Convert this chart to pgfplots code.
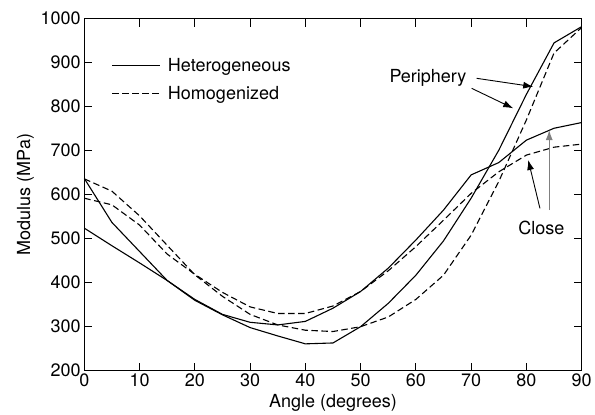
\documentclass[border=0pt]{standalone}
\usepackage{fontspec}
\setmainfont{TeX Gyre Heros}
\usepackage{pgfplots}
\pgfplotsset{compat=1.18}
\usetikzlibrary{arrows.meta}

\pgfplotstableread{
x y
0 637
5 537
10 471
15 405
20 360
25 327
30 298
35 279
40 261
45 263
50 300
55 353
60 417
65 495
70 592
75 701
80 828
85 945
90 982
}\perhet

\pgfplotstableread{
x y
0 524
5 484
10 445
15 405
20 362
25 328
30 310
35 304
40 312
45 342
50 380
55 433
60 497
65 565
70 645
75 673
80 724
85 751
90 764
}\clohet

\pgfplotstableread{
x y
0 636
5 608
10 552
15 485
20 418
25 369
30 328
35 304
40 292
45 289
50 300
55 322
60 362
65 417
70 508
75 630
80 770
85 922
90 980
}\perhom

\pgfplotstableread{
x y
0 592
5 577
10 531
15 465
20 419
25 378
30 345
35 330
40 330
45 347
50 380
55 427
60 482
65 542
70 603
75 652
80 690
85 708
90 715
}\clohom

\begin{document}
\begin{tikzpicture}[font=\fontsize{18}{21.6}\selectfont]
\begin{axis}[
  scale only axis, width=497.4pt, height=352pt,
  xmin=0, xmax=90, ymin=200, ymax=1000,
  xtick={0,10,...,90}, ytick={200,300,...,1000},
  tick align=inside, major tick length=8pt,
  axis line style={line width=1.1pt},
  every tick/.style={line width=1.1pt, black},
  /pgf/number format/assume math mode=true,
  /pgf/number format/1000 sep={},
  xlabel={Angle (degrees)}, ylabel={Modulus (MPa)},
  clip=false,
  legend style={draw=none, fill=none, at={(axis cs:4.96,861.8)}, anchor=west, inner sep=0pt, row sep=10pt,
    /tikz/every odd column/.append style={column sep=5pt}},
  legend cell align=left,
  legend image code/.code={\draw[#1] (0pt,0pt) -- (48pt,0pt);},
  dashstyle/.style={dash pattern=on 6.5pt off 3.5pt},
]
\addlegendimage{line width=1.1pt}
\addlegendentry{Heterogeneous}
\addlegendimage{line width=1.1pt, dashstyle}
\addlegendentry{Homogenized}
\addplot[forget plot, line width=1.1pt] table {\perhet};
\addplot[forget plot, line width=1.1pt] table {\clohet};
\addplot[forget plot, line width=1.1pt, dashstyle] table {\perhom};
\addplot[forget plot, line width=1.1pt, dashstyle] table {\clohom};
\draw[line width=0.9pt, -{Latex[length=10pt,width=7pt]}] (axis cs:71.0,864.5) -- (axis cs:81.24,845.5);
\draw[line width=0.9pt, -{Latex[length=10pt,width=7pt]}] (axis cs:70.09,841.8) -- (axis cs:77.62,796.4);
\node at (axis cs:62.19,865.2) {Periphery};
\draw[line width=0.9pt, -{Latex[length=10pt,width=7pt]}] (axis cs:82.45,569) -- (axis cs:80.33,678.9);
\draw[line width=1.1pt, gray, -{Latex[length=10pt,width=7pt]}] (axis cs:84.13,565.2) -- (axis cs:84.13,747);
\node at (axis cs:82.72,524.3) {Close};
\path (axis cs:-15.25,1042.5) rectangle (axis cs:92.4,99.3);
\end{axis}
\end{tikzpicture}
\end{document}
